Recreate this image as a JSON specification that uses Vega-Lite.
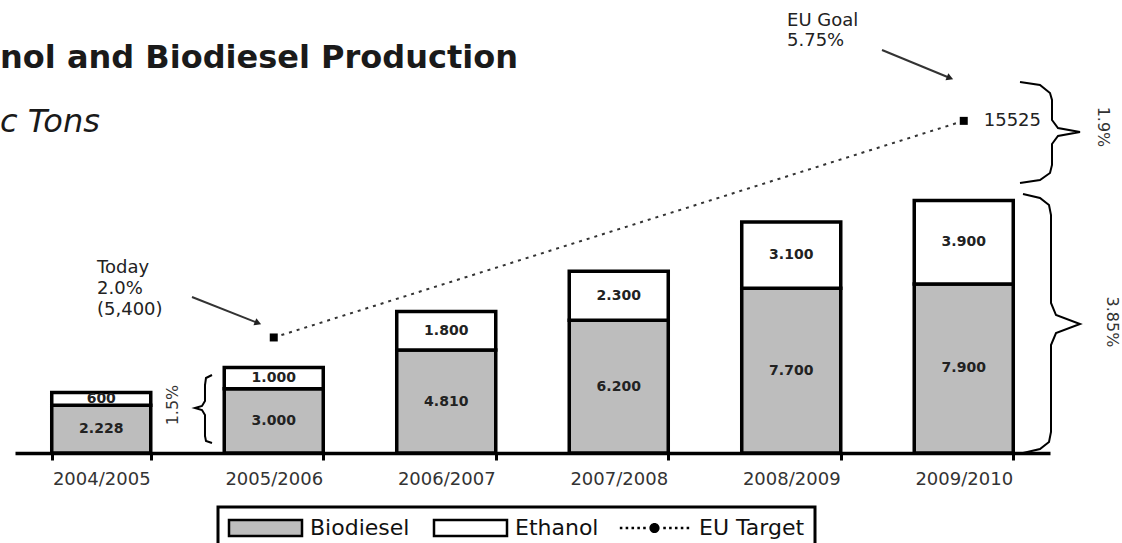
{
  "$schema": "https://vega.github.io/schema/vega-lite/v6.json",
  "autosize": {"type": "none"},
  "padding": {"left": 15, "top": 150, "right": 72, "bottom": 90},
  "width": 1035,
  "height": 303,
  "background": "white",
  "title": {
    "text": "nol and Biodiesel Production",
    "subtitle": "c Tons",
    "anchor": "start",
    "dx": -15,
    "offset": -127,
    "font": "DejaVu Sans",
    "fontSize": 32,
    "fontWeight": "bold",
    "color": "#1a1a1a",
    "subtitleFont": "DejaVu Sans",
    "subtitleFontSize": 32,
    "subtitleFontStyle": "italic",
    "subtitleColor": "#1a1a1a",
    "subtitlePadding": 32
  },
  "config": {
    "view": {"stroke": null},
    "font": "DejaVu Sans",
    "locale": {"number": {"decimal": ",", "thousands": ".", "grouping": [3], "currency": ["", " €"]}}
  },
  "datasets": {
    "production": [
      {"year": "2004/2005", "series": "Biodiesel", "v": 2228},
      {"year": "2004/2005", "series": "Ethanol", "v": 600},
      {"year": "2005/2006", "series": "Biodiesel", "v": 3000},
      {"year": "2005/2006", "series": "Ethanol", "v": 1000},
      {"year": "2006/2007", "series": "Biodiesel", "v": 4810},
      {"year": "2006/2007", "series": "Ethanol", "v": 1800},
      {"year": "2007/2008", "series": "Biodiesel", "v": 6200},
      {"year": "2007/2008", "series": "Ethanol", "v": 2300},
      {"year": "2008/2009", "series": "Biodiesel", "v": 7700},
      {"year": "2008/2009", "series": "Ethanol", "v": 3100},
      {"year": "2009/2010", "series": "Biodiesel", "v": 7900},
      {"year": "2009/2010", "series": "Ethanol", "v": 3900}
    ],
    "target": [
      {"period": "2005/2006", "pos": 1, "val": 5400},
      {"period": "2009/2010", "pos": 5, "val": 15525}
    ],
    "notes": [
      {"pos": -0.0246, "val": 8647, "text": "Today"},
      {"pos": -0.0246, "val": 7666, "text": "2.0%"},
      {"pos": -0.0246, "val": 6684, "text": "(5,400)"},
      {"pos": 3.9754, "val": 20193, "text": "EU Goal"},
      {"pos": 3.9754, "val": 19258, "text": "5.75%"}
    ],
    "arrows": [
      {"pos": 0.5261, "val": 7292, "pos2": 0.9087, "val2": 6076},
      {"pos": 4.5261, "val": 18837, "pos2": 4.9203, "val2": 17528}
    ],
    "braces": [
      {"b": "1.9%", "o": 1, "pos": 5.3261, "val": 17341},
      {"b": "1.9%", "o": 2, "pos": 5.4420, "val": 17201},
      {"b": "1.9%", "o": 3, "pos": 5.5000, "val": 16827},
      {"b": "1.9%", "o": 4, "pos": 5.5116, "val": 16500},
      {"b": "1.9%", "o": 5, "pos": 5.5116, "val": 15565},
      {"b": "1.9%", "o": 6, "pos": 5.5464, "val": 15191},
      {"b": "1.9%", "o": 7, "pos": 5.6739, "val": 15004},
      {"b": "1.9%", "o": 8, "pos": 5.5464, "val": 14817},
      {"b": "1.9%", "o": 9, "pos": 5.5116, "val": 14443},
      {"b": "1.9%", "o": 10, "pos": 5.5116, "val": 13462},
      {"b": "1.9%", "o": 11, "pos": 5.5000, "val": 13088},
      {"b": "1.9%", "o": 12, "pos": 5.4420, "val": 12761},
      {"b": "1.9%", "o": 13, "pos": 5.3261, "val": 12620},
      {"b": "3.85%", "o": 1, "pos": 5.3435, "val": 12106},
      {"b": "3.85%", "o": 2, "pos": 5.4420, "val": 11919},
      {"b": "3.85%", "o": 3, "pos": 5.4942, "val": 11592},
      {"b": "3.85%", "o": 4, "pos": 5.5058, "val": 11125},
      {"b": "3.85%", "o": 5, "pos": 5.5058, "val": 7011},
      {"b": "3.85%", "o": 6, "pos": 5.5348, "val": 6450},
      {"b": "3.85%", "o": 7, "pos": 5.6739, "val": 6030},
      {"b": "3.85%", "o": 8, "pos": 5.5348, "val": 5609},
      {"b": "3.85%", "o": 9, "pos": 5.5058, "val": 5048},
      {"b": "3.85%", "o": 10, "pos": 5.5058, "val": 982},
      {"b": "3.85%", "o": 11, "pos": 5.4942, "val": 514},
      {"b": "3.85%", "o": 12, "pos": 5.4420, "val": 187},
      {"b": "3.85%", "o": 13, "pos": 5.3435, "val": 0},
      {"b": "1.5%", "o": 1, "pos": 0.6420, "val": 3646},
      {"b": "1.5%", "o": 2, "pos": 0.6072, "val": 3506},
      {"b": "1.5%", "o": 3, "pos": 0.6014, "val": 3178},
      {"b": "1.5%", "o": 4, "pos": 0.6014, "val": 2431},
      {"b": "1.5%", "o": 5, "pos": 0.5841, "val": 2197},
      {"b": "1.5%", "o": 6, "pos": 0.5435, "val": 2103},
      {"b": "1.5%", "o": 7, "pos": 0.5841, "val": 2010},
      {"b": "1.5%", "o": 8, "pos": 0.6014, "val": 1776},
      {"b": "1.5%", "o": 9, "pos": 0.6014, "val": 795},
      {"b": "1.5%", "o": 10, "pos": 0.6072, "val": 561},
      {"b": "1.5%", "o": 11, "pos": 0.6420, "val": 467}
    ]
  },
  "layer": [
    {
      "data": {"name": "production"},
      "encoding": {
        "x": {
          "field": "year",
          "type": "ordinal",
          "scale": {"paddingInner": 0.426, "paddingOuter": 0.213},
          "axis": {
            "title": null,
            "tickBand": "extent",
            "labelAngle": 0,
            "domainColor": "black",
            "domainWidth": 3.5,
            "tickColor": "black",
            "tickWidth": 3,
            "tickSize": 7,
            "labelFont": "DejaVu Sans",
            "labelFontSize": 18,
            "labelColor": "#333",
            "labelPadding": 10
          }
        }
      },
      "layer": [
        {
          "mark": {"type": "bar", "stroke": "black", "strokeWidth": 3.5},
          "encoding": {
            "y": {"field": "v", "type": "quantitative", "stack": "zero", "scale": {"domain": [0, 14163], "nice": false}, "axis": null},
            "order": {"field": "series", "sort": "ascending"},
            "color": {
              "field": "series",
              "type": "nominal",
              "scale": {"domain": ["Biodiesel", "Ethanol", "EU Target"], "range": ["#bdbdbd", "#ffffff", "#000000"]},
              "legend": {
                "title": null,
                "orient": "none",
                "legendX": 203,
                "legendY": 357,
                "direction": "horizontal",
                "columns": 3,
                "gridAlign": "none",
                "symbolType": "M-0.274,-0.22H1.726V0.22H-0.274Z",
                "symbolSize": 5330,
                "symbolStrokeColor": "black",
                "symbolStrokeWidth": 2.5,
                "symbolOpacity": 1,
                "labelFont": "DejaVu Sans",
                "labelFontSize": 22,
                "labelColor": "#111",
                "labelOffset": 60,
                "columnPadding": 18,
                "padding": 10,
                "strokeColor": "black",
                "encode": {
                  "legend": {"update": {"strokeWidth": {"value": 3}}},
                  "symbols": {
                    "update": {
                      "shape": {"signal": "datum.value === 'EU Target' ? 'M-0.224,-0.035h0.07v0.07h-0.07Z M-0.064,-0.035h0.07v0.07h-0.07Z M0.096,-0.035h0.07v0.07h-0.07Z M0.256,-0.035h0.07v0.07h-0.07Z M0.416,-0.035h0.07v0.07h-0.07Z M0.966,-0.035h0.07v0.07h-0.07Z M1.126,-0.035h0.07v0.07h-0.07Z M1.286,-0.035h0.07v0.07h-0.07Z M1.446,-0.035h0.07v0.07h-0.07Z M1.606,-0.035h0.07v0.07h-0.07Z M0.586,0A0.14,0.14,0,1,0,0.866,0A0.14,0.14,0,1,0,0.586,0Z' : 'M-0.274,-0.22H1.726V0.22H-0.274Z'"},
                      "strokeWidth": {"signal": "datum.value === 'EU Target' ? 0 : 2.5"},
                      "stroke": {"value": "black"}
                    }
                  }
                }
              }
            }
          }
        },
        {
          "transform": [
            {"stack": "v", "groupby": ["year"], "sort": [{"field": "series", "order": "ascending"}], "as": ["s0", "s1"]},
            {"fold": ["s0", "s1"], "as": ["edge", "ev"]},
            {"aggregate": [{"op": "mean", "field": "ev", "as": "mid"}, {"op": "max", "field": "v", "as": "v"}], "groupby": ["year", "series"]}
          ],
          "mark": {"type": "text", "font": "DejaVu Sans", "fontWeight": "bold", "fontSize": 14, "color": "#222", "baseline": "middle"},
          "encoding": {
            "y": {"field": "mid", "type": "quantitative", "scale": {"domain": [0, 14163], "nice": false}, "axis": null},
            "text": {"field": "v", "type": "quantitative", "format": ",d"}
          }
        }
      ]
    },
    {
      "layer": [
        {
          "data": {"name": "target"},
          "mark": {"type": "line", "color": "#333", "strokeWidth": 2, "strokeDash": [3, 5]},
          "encoding": {
            "x": {"field": "pos", "type": "quantitative", "scale": {"domain": [-0.5, 5.5], "nice": false, "zero": false}, "axis": null},
            "y": {"field": "val", "type": "quantitative", "scale": {"domain": [0, 14163], "nice": false}, "axis": null}
          }
        },
        {
          "data": {"name": "target"},
          "mark": {"type": "point", "shape": "square", "filled": true, "size": 64, "color": "black", "opacity": 1},
          "encoding": {
            "x": {"field": "pos", "type": "quantitative", "scale": {"domain": [-0.5, 5.5], "nice": false, "zero": false}, "axis": null},
            "y": {"field": "val", "type": "quantitative", "scale": {"domain": [0, 14163], "nice": false}, "axis": null}
          }
        },
        {
          "data": {"name": "target"},
          "transform": [{"filter": "datum.pos === 5"}],
          "mark": {"type": "text", "align": "left", "baseline": "middle", "dx": 20, "font": "DejaVu Sans", "fontSize": 18, "color": "#222"},
          "encoding": {
            "x": {"field": "pos", "type": "quantitative", "scale": {"domain": [-0.5, 5.5], "nice": false, "zero": false}, "axis": null},
            "y": {"field": "val", "type": "quantitative", "scale": {"domain": [0, 14163], "nice": false}, "axis": null},
            "text": {"field": "val", "type": "quantitative", "format": "d"}
          }
        },
        {
          "data": {"name": "notes"},
          "mark": {"type": "text", "align": "left", "baseline": "middle", "font": "DejaVu Sans", "fontSize": 18, "color": "#222"},
          "encoding": {
            "x": {"field": "pos", "type": "quantitative", "scale": {"domain": [-0.5, 5.5], "nice": false, "zero": false}, "axis": null},
            "y": {"field": "val", "type": "quantitative", "scale": {"domain": [0, 14163], "nice": false}, "axis": null},
            "text": {"field": "text", "type": "nominal"}
          }
        },
        {
          "data": {"name": "arrows"},
          "mark": {"type": "rule", "color": "#333", "strokeWidth": 2},
          "encoding": {
            "x": {"field": "pos", "type": "quantitative", "scale": {"domain": [-0.5, 5.5], "nice": false, "zero": false}, "axis": null},
            "y": {"field": "val", "type": "quantitative", "scale": {"domain": [0, 14163], "nice": false}, "axis": null},
            "x2": {"field": "pos2"},
            "y2": {"field": "val2"}
          }
        },
        {
          "data": {"name": "arrows"},
          "mark": {"type": "point", "shape": "triangle-right", "filled": true, "size": 60, "angle": 22, "color": "#222", "opacity": 1},
          "encoding": {
            "x": {"field": "pos2", "type": "quantitative", "scale": {"domain": [-0.5, 5.5], "nice": false, "zero": false}, "axis": null},
            "y": {"field": "val2", "type": "quantitative", "scale": {"domain": [0, 14163], "nice": false}, "axis": null}
          }
        },
        {
          "data": {"name": "braces"},
          "mark": {"type": "line", "color": "black", "strokeWidth": 2},
          "encoding": {
            "x": {"field": "pos", "type": "quantitative", "scale": {"domain": [-0.5, 5.5], "nice": false, "zero": false}, "axis": null},
            "y": {"field": "val", "type": "quantitative", "scale": {"domain": [0, 14163], "nice": false}, "axis": null},
            "detail": {"field": "b", "type": "nominal"},
            "order": {"field": "o", "type": "quantitative"}
          }
        },
        {
          "data": {"values": [
            {"pos": 5.8072, "val": 15238, "text": "1.9%"},
            {"pos": 5.8594, "val": 6123, "text": "3.85%"}
          ]},
          "mark": {"type": "text", "angle": 90, "align": "center", "baseline": "middle", "font": "DejaVu Sans", "fontSize": 16, "color": "#333"},
          "encoding": {
            "x": {"field": "pos", "type": "quantitative", "scale": {"domain": [-0.5, 5.5], "nice": false, "zero": false}, "axis": null},
            "y": {"field": "val", "type": "quantitative", "scale": {"domain": [0, 14163], "nice": false}, "axis": null},
            "text": {"field": "text", "type": "nominal"}
          }
        },
        {
          "data": {"values": [
            {"pos": 0.4159, "val": 2244, "text": "1.5%"}
          ]},
          "mark": {"type": "text", "angle": 270, "align": "center", "baseline": "middle", "font": "DejaVu Sans", "fontSize": 16, "color": "#333"},
          "encoding": {
            "x": {"field": "pos", "type": "quantitative", "scale": {"domain": [-0.5, 5.5], "nice": false, "zero": false}, "axis": null},
            "y": {"field": "val", "type": "quantitative", "scale": {"domain": [0, 14163], "nice": false}, "axis": null},
            "text": {"field": "text", "type": "nominal"}
          }
        }
      ]
    }
  ],
  "resolve": {"scale": {"x": "independent"}}
}
